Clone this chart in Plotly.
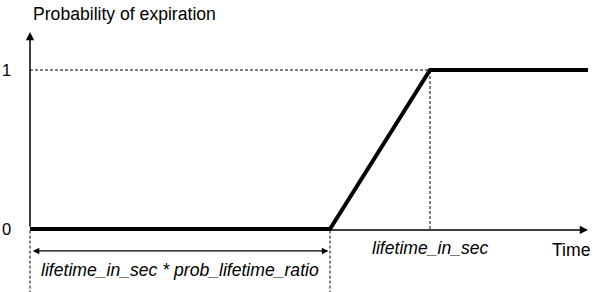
import plotly.graph_objects as go

# ---- data ----
lifetime_in_sec = 1.0
prob_lifetime_ratio = 0.75
time_end = 1.395
time_points = [0.0, lifetime_in_sec * prob_lifetime_ratio, lifetime_in_sec, time_end]
probability = [0, 0, 1, 1]
y_tick_values = [0, 1]
y_tick_labels = ["0", "1"]

FONT = "Liberation Sans, Arial, Helvetica, sans-serif"
FS = 17.6

fig = go.Figure()
fig.add_trace(go.Scatter(x=time_points, y=probability, mode="lines",
                         line=dict(color="black", width=4), hoverinfo="skip"))

# dashed guides
dash = "3px,2px"
fig.add_shape(type="line", x0=0, x1=lifetime_in_sec, y0=1, y1=1,
              line=dict(color="black", width=1, dash=dash))
fig.add_shape(type="line", x0=lifetime_in_sec, x1=lifetime_in_sec, y0=0, y1=1,
              line=dict(color="black", width=1, dash=dash))
xr = lifetime_in_sec * prob_lifetime_ratio
fig.add_shape(type="line", x0=0, x1=0, y0=-0.01, y1=-0.45,
              line=dict(color="black", width=1, dash=dash))
fig.add_shape(type="line", x0=xr, x1=xr, y0=-0.01, y1=-0.45,
              line=dict(color="black", width=1, dash=dash))

anns = []
# axes arrows
anns.append(dict(x=0, y=1.239, ax=0, ay=0.005, xref="x", yref="y", axref="x", ayref="y",
                 text="", showarrow=True, arrowhead=2, arrowsize=1.1, arrowwidth=1.5,
                 arrowcolor="black", standoff=0, startstandoff=0))
anns.append(dict(x=time_end, y=-0.006, ax=0, ay=-0.006, xref="x", yref="y", axref="x", ayref="y",
                 text="", showarrow=True, arrowhead=2, arrowsize=1.1, arrowwidth=1.5,
                 arrowcolor="black", standoff=0, startstandoff=0))
# double arrow
anns.append(dict(x=xr - 0.004, y=-0.138, ax=0.003, ay=-0.138, xref="x", yref="y",
                 axref="x", ayref="y", text="", showarrow=True, arrowhead=2,
                 startarrowhead=2, arrowside="end+start", arrowsize=1.1, startarrowsize=1.1,
                 arrowwidth=1.2, arrowcolor="black", standoff=0, startstandoff=0))

# texts
anns.append(dict(x=0.003, y=1.352, xref="x", yref="y", text="Probability of expiration",
                 showarrow=False, xanchor="left", yanchor="middle",
                 font=dict(family=FONT, size=FS, color="black")))
for v, lab in zip(y_tick_values, y_tick_labels):
    anns.append(dict(x=-0.058, y=v, xref="x", yref="y", text=lab, showarrow=False,
                     xanchor="center", yanchor="middle",
                     font=dict(family=FONT, size=16.5, color="black")))
anns.append(dict(x=lifetime_in_sec, y=-0.12, xref="x", yref="y",
                 text="<i>lifetime_in_sec</i>", showarrow=False,
                 xanchor="center", yanchor="middle",
                 font=dict(family=FONT, size=FS, color="black")))
anns.append(dict(x=1.3525, y=-0.132, xref="x", yref="y", text="Time", showarrow=False,
                 xanchor="center", yanchor="middle",
                 font=dict(family=FONT, size=FS, color="black")))
anns.append(dict(x=xr / 2, y=-0.258, xref="x", yref="y",
                 text="<i>lifetime_in_sec * prob_lifetime_ratio</i>", showarrow=False,
                 xanchor="center", yanchor="middle",
                 font=dict(family=FONT, size=FS, color="black")))

fig.update_layout(
    width=600, height=292, autosize=False,
    margin=dict(l=0, r=0, t=0, b=0),
    paper_bgcolor="white", plot_bgcolor="white",
    showlegend=False, annotations=anns,
    xaxis=dict(range=[-0.075, 1.425], visible=False, fixedrange=True),
    yaxis=dict(range=[-0.3962, 1.4403], visible=False, fixedrange=True),
)
fig.write_html("out.html", config={"displayModeBar": False})
